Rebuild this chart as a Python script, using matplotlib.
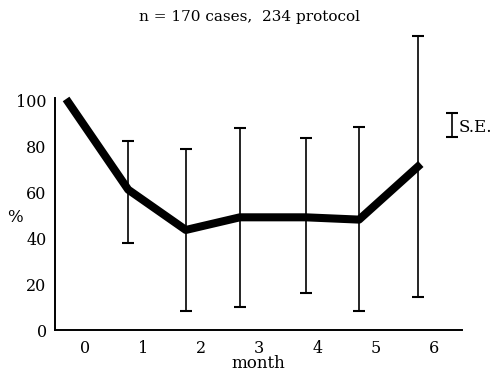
import matplotlib
matplotlib.use("Agg")
import matplotlib.pyplot as plt

# months as placed in the original figure (points sit a bit left of the tick labels)
month_pos = [-0.28, 0.75, 1.74, 2.67, 3.80, 4.72, 5.73]
pct = [99, 61, 43.5, 49, 49, 48, 71]
se_low = [None, 38, 8.3, 10, 16, 8.3, 14.5]
se_high = [None, 82, 78.5, 88, 83.5, 88.4, 128]
tick_months = [0, 1, 2, 3, 4, 5, 6]

plt.rcParams['font.family'] = 'DejaVu Serif'
plt.rcParams['font.size'] = 11

fig = plt.figure(figsize=(4.98, 3.74), dpi=100)
ax = fig.add_axes([0.1104, 0.1176, 0.8173, 0.7995])

ax.plot(month_pos, pct, color='black', lw=5.8, solid_joinstyle='round', zorder=3)

# S.E. bars (skip month 0, no bar there)
ex = month_pos[1:]
ey = pct[1:]
lo = [y - l for y, l in zip(ey, se_low[1:])]
hi = [h - y for y, h in zip(ey, se_high[1:])]
ax.errorbar(ex, ey, yerr=[lo, hi], fmt='none', ecolor='black',
            elinewidth=1.2, capsize=4.5, capthick=1.5, clip_on=False, zorder=2)

# legend-like S.E. marker at the right
ax.errorbar([6.31], [89.3], yerr=[[5.2], [5.2]], fmt='none', ecolor='black',
            elinewidth=1.2, capsize=4.5, capthick=1.5, clip_on=False)
ax.text(6.43, 88, 'S.E.', va='center', ha='left', fontsize=12, clip_on=False)

ax.set_xlim(-0.51, 6.49)
ax.set_ylim(0, 130)
ax.set_xticks(tick_months)
ax.set_yticks([0, 20, 40, 60, 80, 100])
ax.tick_params(length=0, labelsize=11.5)
ax.tick_params(axis='y', pad=6)
ax.tick_params(axis='x', pad=7)

ax.spines['top'].set_visible(False)
ax.spines['right'].set_visible(False)
ax.spines['left'].set_bounds(0, 101)
ax.spines['left'].set_linewidth(1.4)
ax.spines['bottom'].set_linewidth(1.4)

ax.set_xlabel('month', labelpad=-1, fontsize=12)
fig.text(0.03, (374 - 217) / 374, '%', ha='center', va='center', fontsize=12)
fig.text(0.5, (374 - 17) / 374, 'n = 170 cases,  234 protocol',
         ha='center', va='center', fontsize=11)

fig.savefig('out.png', dpi=100)
